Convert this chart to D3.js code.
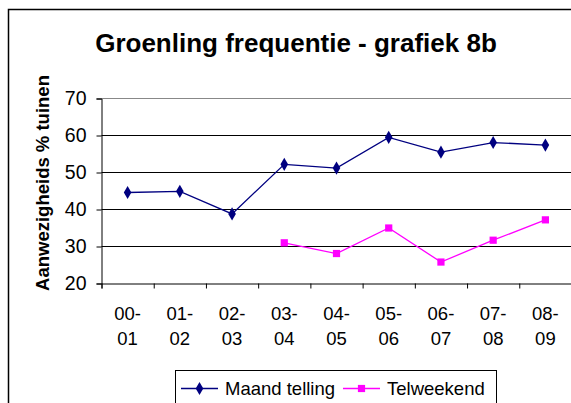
<!DOCTYPE html>
<html>
<head>
<meta charset="utf-8">
<script src="https://cdn.jsdelivr.net/npm/d3@7"></script>
<style>
  body { margin: 0; background: #fff; }
  svg { display: block; font-family: Arial, "Liberation Sans", sans-serif; }
</style>
</head>
<body>
<svg id="chart" width="571" height="403"></svg>
<script>
// Seasons on the x axis
const seasons = ["00-01", "01-02", "02-03", "03-04", "04-05", "05-06", "06-07", "07-08", "08-09"];
// Presence % of gardens, monthly count
const maandTelling = [44.6, 44.9, 38.8, 52.2, 51.2, 59.5, 55.5, 58.1, 57.4];
// Presence % of gardens, count weekend (no data first three seasons)
const telweekend = [null, null, null, 31.0, 28.1, 35.0, 25.8, 31.7, 37.2];
const yTicks = [20, 30, 40, 50, 60, 70];

const svg = d3.select("#chart");

// Outer chart frame
svg.append("rect")
    .attr("x", 8.5).attr("y", 9.5)
    .attr("width", 600).attr("height", 420)
    .attr("fill", "#fff")
    .attr("stroke", "#000")
    .attr("stroke-width", 1.5);

const plotLeft = 101.5, plotRight = 571.5, plotTop = 98.5, plotBottom = 283.5;

const x = d3.scaleBand().domain(seasons).range([plotLeft, plotRight]).paddingInner(0).paddingOuter(0);
const xEdge = d3.scaleLinear().domain([0, seasons.length]).range([plotLeft, plotRight]);
const y = d3.scaleLinear().domain([20, 70]).range([plotBottom, plotTop]);

// Title
svg.append("text")
    .attr("x", 296).attr("y", 52)
    .attr("text-anchor", "middle")
    .attr("font-size", 26).attr("font-weight", "bold")
    .text("Groenling frequentie - grafiek 8b");

// Y axis title
svg.append("text")
    .attr("transform", "translate(48.5,183) rotate(-90)")
    .attr("text-anchor", "middle")
    .attr("font-size", 18.5).attr("font-weight", "bold")
    .text("Aanwezigheids % tuinen");

// Gridlines
svg.append("g")
    .selectAll("line")
    .data(yTicks.filter(d => d > 20))
    .join("line")
    .attr("x1", plotLeft).attr("x2", plotRight)
    .attr("y1", d => y(d)).attr("y2", d => y(d))
    .attr("stroke", d => d === 70 ? "#888" : "#000")
    .attr("stroke-width", 1);

// Y axis
const yAxis = svg.append("g")
    .attr("transform", `translate(${plotLeft},0)`)
    .call(d3.axisLeft(y).tickValues(yTicks).tickSize(5).tickPadding(10));
yAxis.selectAll("text").attr("font-size", 19.5).attr("fill", "#000");
yAxis.selectAll("line, path").attr("stroke", "#000");
yAxis.attr("font-family", null);

// X axis (ticks on category boundaries)
const xAxis = svg.append("g")
    .attr("transform", `translate(0,${plotBottom})`)
    .call(d3.axisBottom(xEdge).tickValues(d3.range(seasons.length + 1)).tickSize(5).tickFormat(""));
xAxis.select(".domain").attr("stroke", "#000");
xAxis.selectAll("line").attr("stroke", "#000");

// X labels split in two lines
const xl = svg.append("g")
    .selectAll("text")
    .data(seasons)
    .join("text")
    .attr("text-anchor", "middle")
    .attr("font-size", 18.5);
xl.append("tspan")
    .attr("x", d => x(d) + x.bandwidth() / 2)
    .attr("y", 320)
    .text(d => d.split("-")[0] + "-");
xl.append("tspan")
    .attr("x", d => x(d) + x.bandwidth() / 2)
    .attr("y", 345)
    .text(d => d.split("-")[1]);

const cx = (d, i) => x(seasons[i]) + x.bandwidth() / 2;
const line = d3.line()
    .defined(d => d !== null)
    .x(cx)
    .y(d => y(d));

const diamond = d3.symbol().type(d3.symbolDiamond).size(50);
const square = d3.symbol().type(d3.symbolSquare).size(52);

// Maand telling
svg.append("path")
    .datum(maandTelling)
    .attr("fill", "none").attr("stroke", "#000080").attr("stroke-width", 1.3)
    .attr("d", line);
svg.append("g")
    .selectAll("path")
    .data(maandTelling)
    .join("path")
    .attr("transform", (d, i) => `translate(${cx(d, i)},${y(d)})`)
    .attr("d", diamond)
    .attr("fill", "#000080");

// Telweekend
svg.append("path")
    .datum(telweekend)
    .attr("fill", "none").attr("stroke", "#ff00ff").attr("stroke-width", 1.3)
    .attr("d", line);
svg.append("g")
    .selectAll("path")
    .data(telweekend.map((v, i) => ({ v, i })).filter(d => d.v !== null))
    .join("path")
    .attr("transform", d => `translate(${cx(d.v, d.i)},${y(d.v)})`)
    .attr("d", square)
    .attr("fill", "#ff00ff");

// Legend
const legend = svg.append("g");
legend.append("rect")
    .attr("x", 175.5).attr("y", 370.5)
    .attr("width", 321).attr("height", 40)
    .attr("fill", "#fff").attr("stroke", "#000").attr("stroke-width", 1);
const legendItems = [
    { name: "Maand telling", color: "#000080", sym: diamond, x0: 181 },
    { name: "Telweekend", color: "#ff00ff", sym: square, x0: 343 }
];
legendItems.forEach(it => {
    legend.append("line")
        .attr("x1", it.x0).attr("x2", it.x0 + 37)
        .attr("y1", 388.5).attr("y2", 388.5)
        .attr("stroke", it.color).attr("stroke-width", 1.3);
    legend.append("path")
        .attr("transform", `translate(${it.x0 + 18.5},388.5)`)
        .attr("d", it.sym)
        .attr("fill", it.color);
    legend.append("text")
        .attr("x", it.x0 + 44).attr("y", 395)
        .attr("font-size", 18.5)
        .text(it.name);
});
</script>
</body>
</html>
